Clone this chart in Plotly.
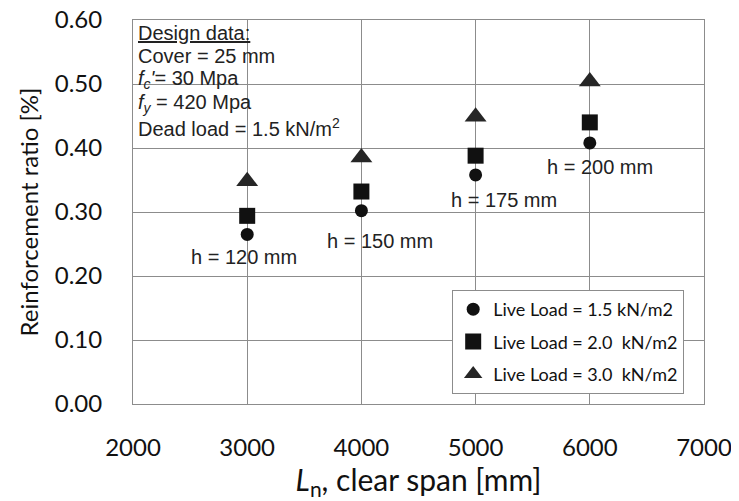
import plotly.graph_objects as go

spans = [3000, 4000, 5000, 6000]
ll_15 = [0.265, 0.302, 0.358, 0.408]
ll_20 = [0.294, 0.332, 0.388, 0.440]
ll_30 = [0.348, 0.385, 0.449, 0.504]
series_names = ["Live Load = 1.5 kN/m2", "Live Load = 2.0  kN/m2", "Live Load = 3.0  kN/m2"]
h_labels = ["h = 120 mm", "h = 150 mm", "h = 175 mm", "h = 200 mm"]
h_label_x = [2970, 4160, 5250, 6090]
h_label_y = [0.229, 0.254, 0.318, 0.370]
design_lines = ["<u>Design data:</u>", "Cover = 25 mm",
                "<i>f</i><sub><i>c</i></sub><i>'</i>= 30 Mpa",
                "<i>f</i><sub><i>y</i></sub> = 420 Mpa",
                "Dead load = 1.5 kN/m<sup>2</sup>"]

fig = go.Figure()
markers = [("circle", 13, "#111111"), ("square", 16, "#111111"), ("triangle-up", 19, "#262626")]
for name, ys, (sym, sz, col), g in zip(series_names, [ll_15, ll_20, ll_30], markers, ["a", "b", "c"]):
    fig.add_trace(go.Scatter(x=spans, y=ys, mode="markers", name=name, legendgroup=g,
                             marker=dict(symbol=sym, size=sz, color=col)))

for t, x, y in zip(h_labels, h_label_x, h_label_y):
    fig.add_annotation(x=x, y=y, text=t, showarrow=False,
                       font=dict(family="Liberation Sans, Arial", size=20, color="#222"))

for i, t in enumerate(design_lines):
    fig.add_annotation(xref="paper", yref="paper", x=0, y=1, xanchor="left", yanchor="middle",
                       xshift=3, yshift=-12.5 - 23.7 * i, align="left", showarrow=False, text=t,
                       font=dict(family="Liberation Sans, Arial", size=20, color="#222"))

axis_common = dict(showgrid=True, gridcolor="#8c8c8c", gridwidth=1, showline=True,
                   linecolor="#8c8c8c", linewidth=1, mirror=True, zeroline=False,
                   ticks="", automargin=False, ticklabeloverflow="allow",
                   tickfont=dict(family="Lato", size=24, color="#111"))
fig.update_xaxes(range=[2000, 7000], dtick=1000, ticklabelstandoff=22, **axis_common,
                 title=dict(text="<i>L</i><sub>n</sub>, clear span [mm]",
                            font=dict(family="Lato", size=30, color="#111"), standoff=18))
fig.update_yaxes(range=[0, 0.6], dtick=0.1, tickformat=".2f", ticklabelstandoff=25, **axis_common,
                 title=dict(text="Reinforcement ratio [%]",
                            font=dict(family="Lato", size=24, color="#111"), standoff=9))

# page body has an 8px default margin, so the figure is drawn 8px in from the top-left
fig.update_layout(width=731, height=493, margin=dict(l=125, r=35, t=12, b=97),
                  plot_bgcolor="white", paper_bgcolor="white",
                  legend=dict(x=0.559, y=0.297, xanchor="left", yanchor="top",
                              bordercolor="#8c8c8c", borderwidth=1, bgcolor="white",
                              tracegroupgap=6, font=dict(family="Lato", size=18, color="#111")),
                  showlegend=True)

fig.write_html("out.html")
